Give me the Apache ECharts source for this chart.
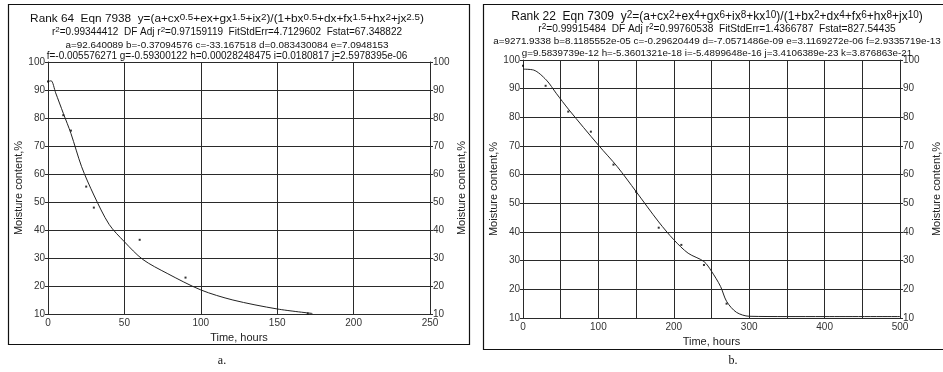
<!DOCTYPE html>
<html>
<head>
<meta charset="utf-8">
<script src="https://cdn.jsdelivr.net/npm/echarts@6/dist/echarts.min.js"></script>
<style>
  html, body { margin: 0; padding: 0; background: #fff; }
  #chart { width: 943px; height: 372px; }
</style>
</head>
<body>
<div id="chart"></div>
<script>
// panel a: measured points and fitted curve
const timeA = [0, 10, 15, 25, 30, 60, 90, 170];
const moistA = [93, 81, 75.5, 55.5, 48, 36.5, 23, 10.2];
const fitTimeA = [0, 2, 5, 10, 15, 22, 30, 40, 50, 62, 78, 100, 121, 150, 173];
const fitMoistA = [93, 93.3, 89, 81.7, 74.5, 62.6, 52.5, 42, 35.8, 29.5, 24.5, 18.6, 15, 11.8, 10.2];

// panel b
const timeB = [0, 30, 60, 90, 120, 150, 180, 210, 240, 270];
const moistB = [98, 91, 82, 75, 63.5, 54, 41.5, 35.5, 28.5, 15];
const fitTimeB = [0, 14, 31, 44, 61, 100, 125, 150, 180, 200, 219, 240, 250, 262, 270, 283, 300, 350, 400, 500];
const fitMoistB = [96.8, 96.5, 93, 88.4, 82.6, 70.3, 62.8, 54.1, 43.5, 37.3, 32.6, 29.7, 26.3, 21, 15.8, 12, 10.6, 10.5, 10.5, 10.5];

const titleA = [
  'Rank 64  Eqn 7938  y=(a+cx{s|0.5}+ex+gx{s|1.5}+ix{s|2})/(1+bx{s|0.5}+dx+fx{s|1.5}+hx{s|2}+jx{s|2.5})',
  'r{s|2}=0.99344412  DF Adj r{s|2}=0.97159119  FitStdErr=4.7129602  Fstat=67.348822',
  'a=92.640089 b=-0.37094576 c=-33.167518 d=0.083430084 e=7.0948153',
  'f=-0.005576271 g=-0.59300122 h=0.00028248475 i=0.0180817 j=2.5978395e-06'
];
const titleB = [
  'Rank 22  Eqn 7309  y{s|2}=(a+cx{s|2}+ex{s|4}+gx{s|6}+ix{s|8}+kx{s|10})/(1+bx{s|2}+dx{s|4}+fx{s|6}+hx{s|8}+jx{s|10})',
  'r{s|2}=0.99915484  DF Adj r{s|2}=0.99760538  FitStdErr=1.4366787  Fstat=827.54435',
  'a=9271.9338 b=8.1185552e-05 c=-0.29620449 d=-7.0571486e-09 e=3.1169272e-06 f=2.9335719e-13',
  'g=9.5839739e-12 h=-5.3601321e-18 i=-5.4899648e-16 j=3.4106389e-23 k=3.876863e-21'
];
const yName = 'Moisture content,%';
const xName = 'Time, hours';

const FONT = 'Liberation Sans, Arial, sans-serif';
const lineCol = '#2a2a2a';

function titleItems(lines, cx, tops, sizes) {
  return lines.map((t, i) => ({
    text: t,
    left: cx,
    top: tops[i],
    padding: 0,
    textAlign: 'center',
    textStyle: {
      fontFamily: FONT, fontSize: sizes[i], fontWeight: 'normal', color: '#111',
      lineHeight: 13, verticalAlign: 'bottom',
      rich: { s: { fontSize: sizes[i] - 2, verticalAlign: 'top', lineHeight: 13, fontFamily: FONT, color: '#111' } }
    }
  }));
}

function xAxisOf(gi, max, labelEvery) {
  return {
    type: 'value', gridIndex: gi, min: 0, max: max, interval: 50,
    name: xName, nameLocation: 'middle', nameGap: 18,
    nameTextStyle: { fontFamily: FONT, fontSize: 11, color: '#222' },
    axisLine: { lineStyle: { color: lineCol, width: 1 } },
    axisTick: { show: false },
    axisLabel: {
      fontFamily: FONT, fontSize: 10, color: '#333', margin: 4,
      formatter: v => (v % labelEvery === 0 ? String(v) : '')
    },
    splitLine: { show: true, lineStyle: { color: lineCol, width: 1 } }
  };
}

function yAxisOf(gi, pos, nameGap) {
  return {
    type: 'value', gridIndex: gi, position: pos, min: 10, max: 100, interval: 10,
    name: yName, nameLocation: 'middle', nameGap: nameGap,
    nameTextStyle: { fontFamily: FONT, fontSize: 11, color: '#222' },
    axisLine: { show: true, onZero: false, lineStyle: { color: lineCol, width: 1 } },
    axisTick: { show: true, length: 3, lineStyle: { color: lineCol } },
    axisLabel: { fontFamily: FONT, fontSize: 10, color: '#333', margin: 3 },
    splitLine: { show: pos === 'left', lineStyle: { color: lineCol, width: 1 } }
  };
}

const chart = echarts.init(document.getElementById('chart'), null, { renderer: 'canvas' });
chart.setOption({
  backgroundColor: '#fff',
  animation: false,
  title: [
    ...titleItems(titleA, 227, [12, 26, 39, 50], [11.8, 10, 9.9, 10]),
    ...titleItems(titleB, 717, [10, 23, 35, 47], [12, 10.2, 9.9, 9.8]),
    { text: 'a.', left: 222, top: 355, padding: 0, textAlign: 'center', textStyle: { fontFamily: 'Liberation Serif, serif', fontSize: 12, fontWeight: 'normal', color: '#111' } },
    { text: 'b.', left: 733, top: 355, padding: 0, textAlign: 'center', textStyle: { fontFamily: 'Liberation Serif, serif', fontSize: 12, fontWeight: 'normal', color: '#111' } }
  ],
  graphic: [
    { type: 'rect', shape: { x: 8.5, y: 4.5, width: 461, height: 340 }, style: { fill: 'none', stroke: '#111', lineWidth: 1.2 }, silent: true },
    { type: 'rect', shape: { x: 483.5, y: 4.5, width: 470, height: 345 }, style: { fill: 'none', stroke: '#111', lineWidth: 1.2 }, silent: true }
  ],
  grid: [
    { left: 48, top: 62, width: 382, height: 252 },
    { left: 523, top: 60, width: 390, height: 258 }
  ],
  xAxis: [xAxisOf(0, 250, 50), xAxisOf(1, 500, 100)],
  yAxis: [
    yAxisOf(0, 'left', 22), yAxisOf(0, 'right', 26),
    yAxisOf(1, 'left', 23), yAxisOf(1, 'right', 31)
  ],
  series: [
    {
      type: 'line', xAxisIndex: 0, yAxisIndex: 0, smooth: 0.3, showSymbol: false,
      lineStyle: { color: '#222', width: 1 },
      data: fitTimeA.map((t, i) => [t, fitMoistA[i]])
    },
    {
      type: 'scatter', xAxisIndex: 0, yAxisIndex: 0, symbol: 'rect', symbolSize: 2,
      itemStyle: { color: '#000' },
      data: timeA.map((t, i) => [t, moistA[i]])
    },
    {
      type: 'line', xAxisIndex: 1, yAxisIndex: 2, smooth: 0.3, showSymbol: false,
      lineStyle: { color: '#222', width: 1 },
      data: fitTimeB.map((t, i) => [t, fitMoistB[i]])
    },
    {
      type: 'scatter', xAxisIndex: 1, yAxisIndex: 2, symbol: 'rect', symbolSize: 2,
      itemStyle: { color: '#000' },
      data: timeB.map((t, i) => [t, moistB[i]])
    }
  ]
});
</script>
</body>
</html>
